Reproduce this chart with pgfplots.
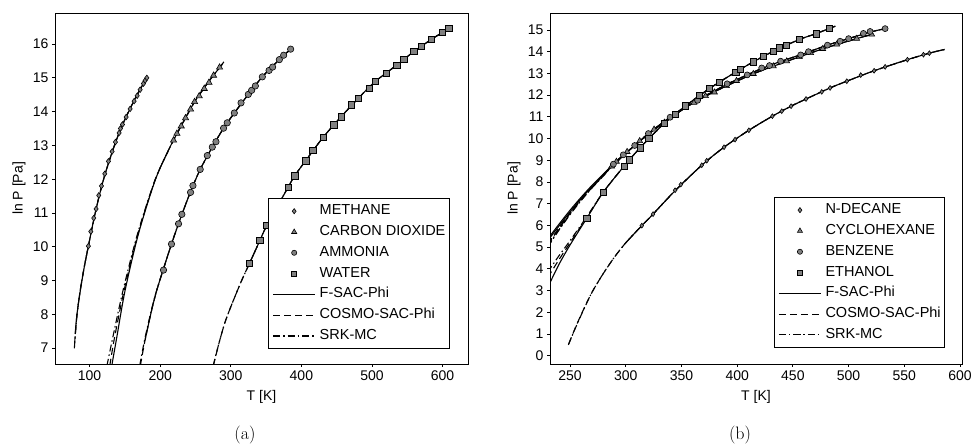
\documentclass[border=0pt]{standalone}
\usepackage{fontspec}
\usepackage{pgfplots}
\pgfplotsset{compat=1.18}
\newfontfamily\arialf{Liberation Sans}
\definecolor{mk}{RGB}{128,128,128}
\pgfplotsset{
 myax/.style={
  scale only axis, height=351pt,
  axis line style={line width=0.9pt},
  tick align=outside, tick pos=left, major tick length=3pt,
  tick style={black, line width=0.8pt},
  tick label style={font=\arialf\fontsize{14}{16}\selectfont},
  /pgf/number format/assume math mode=true,
  every axis x label/.style={at={(axis description cs:0.5,0)}, anchor=center, yshift=-33pt, font=\arialf\fontsize{14}{16}\selectfont},
  every axis y label/.style={at={(axis description cs:-0.0872,0.5)}, anchor=center, rotate=90, font=\arialf\fontsize{14}{16}\selectfont},
  legend style={font=\arialf\fontsize{14.5}{16}\selectfont, draw=black, line width=0.8pt,
    inner xsep=4pt, inner ysep=6pt, row sep=7.8pt, column sep=4pt,
    nodes={inner sep=0pt, text height=10pt, text depth=3pt}, anchor=south east, fill=white},
  legend cell align=left,
  legend image code/.code={\draw[mark repeat=2,mark phase=2,#1] plot coordinates {(0pt,0pt) (21pt,0pt) (42pt,0pt)};},
 },
 fsac/.style={black, line width=1.1pt, solid, smooth, no marks, forget plot},
 cosmo/.style={black, line width=1.1pt, dash pattern=on 7pt off 4pt, smooth, no marks, forget plot},
 srk/.style={black, line width=1.1pt, dash pattern=on 7pt off 3pt on 1.5pt off 3pt, smooth, no marks, forget plot},
 mks/.style={only marks, forget plot, mark options={fill=mk, draw=black, line width=0.6pt, solid}},
 lgm/.style={only marks, mark options={fill=mk, draw=black, line width=0.6pt, solid}},
 lgl/.style={black, line width=1.1pt},
}
\begin{document}
\begin{tikzpicture}[x=1pt,y=1pt]
\useasboundingbox (0,0) rectangle (975,444);
% ---------------- (a) ----------------
\begin{axis}[myax, at={(55pt,80pt)}, anchor=south west, width=413pt,
  xmin=51, xmax=636, ymin=6.53, ymax=16.92,
  xtick={100,200,300,400,500,600}, ytick={7,8,9,10,11,12,13,14,15,16},
  xlabel={T [K]}, ylabel={ln P [Pa]},
  legend style={at={(0.956,0.043)}}]
% legend
\addlegendimage{lgm, mark=diamond*, mark size=2.6pt}\addlegendentry{METHANE}
\addlegendimage{lgm, mark=triangle*, mark size=3pt}\addlegendentry{CARBON DIOXIDE}
\addlegendimage{lgm, mark=*, mark size=2.6pt}\addlegendentry{AMMONIA}
\addlegendimage{lgm, mark=square*, mark size=2.6pt}\addlegendentry{WATER}
\addlegendimage{lgl, solid}\addlegendentry{F-SAC-Phi}
\addlegendimage{lgl, dash pattern=on 7pt off 4pt}\addlegendentry{COSMO-SAC-Phi}
\addlegendimage{lgl, dash pattern=on 7pt off 3pt on 1.5pt off 3pt}\addlegendentry{SRK-MC}
% methane curves
\addplot[srk] coordinates {(78.4,6.99) (80,7.45) (82.2,8.0) (86.5,8.68) (92,9.35) (98.3,10.02) (105.9,10.8) (113,11.45) (121.5,12.12) (131.9,12.8) (141.8,13.37) (151.8,13.85) (163.1,14.33) (171.6,14.66) (181.5,15.02)};
\addplot[cosmo] coordinates {(78.8,7.15) (80.5,7.6) (82.5,8.05) (86.5,8.68) (92,9.35) (98.3,10.02) (105.9,10.8) (113,11.45) (121.5,12.12) (131.9,12.8) (141.8,13.37) (151.8,13.85) (163.1,14.33) (171.6,14.66) (181.5,15.02)};
\addplot[fsac] coordinates {(79.6,7.42) (82,7.98) (86.5,8.65) (92,9.35) (98.3,10.02) (105.9,10.8) (113,11.45) (121.5,12.12) (131.9,12.8) (141.8,13.37) (151.8,13.85) (163.1,14.33) (171.6,14.66) (181.5,15.02)};
% CO2 curves
\addplot[srk] coordinates {(124.6,6.48) (133,7.33) (147.5,8.72) (168,10.39) (192.5,11.97) (211.8,12.86) (221,13.24) (235.5,13.80) (248.7,14.29) (261.5,14.68) (275.6,15.08) (284.1,15.30) (290,15.47)};
\addplot[cosmo] coordinates {(128.6,6.48) (135.5,7.33) (149,8.72) (168.7,10.39) (192.7,11.97) (211.8,12.86) (221,13.24) (235.5,13.80) (248.7,14.29) (261.5,14.68) (275.6,15.08) (284.1,15.30) (290,15.47)};
\addplot[fsac] coordinates {(131.4,6.48) (138.6,7.33) (150.4,8.72) (169.3,10.39) (192.9,11.97) (211.8,12.86) (221,13.24) (235.5,13.80) (248.7,14.29) (261.5,14.68) (275.6,15.08) (284.1,15.30) (290,15.47)};
% ammonia curves
\addplot[srk] coordinates {(171,6.48) (178,7.25) (187.8,8.15) (195.1,8.72) (204.7,9.35) (216,10.08) (228,10.8) (243,11.63) (256.7,12.29) (273.8,12.95) (289.8,13.51) (305,13.96) (324.8,14.51) (344.7,15.03) (368.8,15.54) (384.8,15.85)};
\addplot[cosmo] coordinates {(171.9,6.48) (178.7,7.25) (188.2,8.15) (195.3,8.72) (204.7,9.35) (216,10.08) (228,10.8) (243,11.63) (256.7,12.29) (273.8,12.95) (289.8,13.51) (305,13.96) (324.8,14.51) (344.7,15.03) (368.8,15.54) (384.8,15.85)};
\addplot[fsac] coordinates {(178.7,7.25) (188.2,8.15) (195.3,8.72) (204.7,9.35) (216,10.08) (228,10.8) (243,11.63) (256.7,12.29) (273.8,12.95) (289.8,13.51) (305,13.96) (324.8,14.51) (344.7,15.03) (368.8,15.54) (384.8,15.85)};
% water curves
\addplot[srk] coordinates {(275,6.48) (285,7.28) (294.6,7.93) (313.5,8.91) (326.5,9.51) (340.9,10.17) (350.4,10.6) (381.1,11.76) (390.5,12.1) (406.1,12.55) (430.8,13.24) (456.3,13.85) (480.9,14.4) (504.5,14.89) (535.2,15.38) (559.3,15.78) (584.4,16.14) (609,16.47)};
\addplot[cosmo] coordinates {(275.3,6.48) (285,7.28) (294.6,7.93) (313.5,8.91) (326.5,9.51) (340.9,10.17) (350.4,10.6) (381.1,11.76) (390.5,12.1) (406.1,12.55) (430.8,13.24) (456.3,13.85) (480.9,14.4) (504.5,14.89) (535.2,15.38) (559.3,15.78) (584.4,16.14) (609,16.47)};
\addplot[fsac] coordinates {(326.5,9.51) (340.9,10.17) (350.4,10.6) (381.1,11.76) (390.5,12.1) (406.1,12.55) (430.8,13.24) (456.3,13.85) (480.9,14.4) (504.5,14.89) (535.2,15.38) (559.3,15.78) (584.4,16.14) (609,16.47)};
% markers
\addplot[mks, mark=diamond*, mark size=2.8pt] coordinates {(98.3,10.02) (101.7,10.45) (105.9,10.85) (109.2,11.12) (113.0,11.52) (116.8,11.80) (121.5,12.16) (126.7,12.53) (131.9,12.82) (136.6,13.10) (141.8,13.37) (143.7,13.50) (146.6,13.62) (151.8,13.84) (157.4,14.08) (163.1,14.31) (167.4,14.47) (171.6,14.65) (176.3,14.83) (178.7,14.92) (181.1,15.00)};
\addplot[mks, mark=triangle*, mark size=3.6pt] coordinates {(218.9,13.15) (223.7,13.35) (229.8,13.57) (235.9,13.81) (243,14.07) (248.7,14.29) (255.3,14.46) (262.4,14.68) (269.1,14.86) (275.6,15.07) (284.1,15.31)};
\addplot[mks, mark=*, mark size=3.2pt] coordinates {(204.7,9.31) (216.0,10.08) (226.0,10.68) (230.7,10.96) (243.0,11.61) (246.4,11.81) (256.7,12.29) (266.7,12.70) (273.8,12.95) (279.0,13.11) (289.8,13.51) (295.0,13.67) (305.0,13.96) (314.5,14.26) (324.8,14.51) (329.5,14.63) (334.8,14.76) (344.7,15.03) (354.2,15.22) (359.3,15.32) (368.8,15.54) (374.9,15.67) (384.8,15.85)};
\addplot[mks, mark=square*, mark size=3.2pt] coordinates {(326.5,9.51) (340.9,10.2) (350.4,10.63) (381.1,11.76) (390.5,12.1) (406.1,12.55) (416,12.85) (430.8,13.24) (445.8,13.61) (456.3,13.85) (470.5,14.2) (480.9,14.4) (496,14.69) (504.5,14.89) (520.6,15.14) (535.2,15.38) (545.1,15.55) (559.3,15.78) (569.8,15.93) (584.4,16.14) (599.6,16.34) (609,16.47)};
\end{axis}
% ---------------- (b) ----------------
\begin{axis}[myax, at={(550pt,80pt)}, anchor=south west, width=412pt,
  xmin=232, xmax=601.8, ymin=-0.38, ymax=15.78,
  xtick={250,300,350,400,450,500,550,600}, ytick={0,1,...,15},
  xlabel={T [K]}, ylabel={ln P [Pa]},
  legend style={at={(0.959,0.046)}}]
\addlegendimage{lgm, mark=diamond*, mark size=2.6pt}\addlegendentry{N-DECANE}
\addlegendimage{lgm, mark=triangle*, mark size=3pt}\addlegendentry{CYCLOHEXANE}
\addlegendimage{lgm, mark=*, mark size=2.6pt}\addlegendentry{BENZENE}
\addlegendimage{lgm, mark=square*, mark size=2.6pt}\addlegendentry{ETHANOL}
\addlegendimage{lgl, solid}\addlegendentry{F-SAC-Phi}
\addlegendimage{lgl, dash pattern=on 7pt off 4pt}\addlegendentry{COSMO-SAC-Phi}
\addlegendimage{lgl, dash pattern=on 7pt off 3pt on 1.5pt off 3pt}\addlegendentry{SRK-MC}
% decane
\addplot[srk] coordinates {(248.5,0.5) (255,1.3) (262,2.1) (270,2.95) (280,3.8) (290,4.55) (300,5.2) (314.4,5.99) (324.5,6.52) (344.3,7.6) (368.2,8.77) (388.2,9.6) (410.5,10.38) (431.6,11.03) (448.4,11.49) (461.8,11.82) (483.4,12.33) (498.4,12.64) (522.9,13.12) (552.8,13.63) (572.5,13.93) (586,14.1)};
\addplot[cosmo] coordinates {(248.8,0.55) (255,1.32) (262,2.12) (270,2.95) (280,3.8) (290,4.55) (300,5.2) (314.4,5.99) (324.5,6.52) (344.3,7.6) (368.2,8.77) (388.2,9.6) (410.5,10.38) (431.6,11.03) (448.4,11.49) (461.8,11.82) (483.4,12.33) (498.4,12.64) (522.9,13.12) (552.8,13.63) (572.5,13.93) (586,14.1)};
\addplot[fsac] coordinates {(300,5.2) (314.4,5.99) (324.5,6.52) (344.3,7.6) (368.2,8.77) (388.2,9.6) (410.5,10.38) (431.6,11.03) (448.4,11.49) (461.8,11.82) (483.4,12.33) (498.4,12.64) (522.9,13.12) (552.8,13.63) (572.5,13.93) (586,14.1)};
% ethanol
\addplot[srk] coordinates {(230,3.85) (240,4.6) (250,5.3) (265,6.4) (279.7,7.53) (298.5,8.73) (313,9.58) (334.5,10.70) (353.6,11.5) (375,12.3) (399,13.07) (414.5,13.53) (432.5,14.02) (455.8,14.56) (470.8,14.83) (488,15.17)};
\addplot[cosmo] coordinates {(230,3.6) (240,4.42) (250,5.2) (265,6.36) (279.7,7.52) (298.5,8.73) (313,9.58) (334.5,10.70) (353.6,11.5) (375,12.3) (399,13.07) (414.5,13.53) (432.5,14.02) (455.8,14.56) (470.8,14.83) (488,15.17)};
\addplot[fsac] coordinates {(230,3.15) (240,4.2) (250,5.1) (265,6.33) (279.7,7.52) (298.5,8.73) (313,9.58) (334.5,10.70) (353.6,11.5) (375,12.3) (399,13.07) (414.5,13.53) (432.5,14.02) (455.8,14.56) (470.8,14.83) (488,15.17)};
% benzene
\addplot[srk] coordinates {(230,5.05) (240,5.8) (250,6.52) (260,7.17) (270,7.77) (280,8.33) (289,8.84) (298,9.25) (308,9.68) (320.3,10.23) (339.8,10.98) (364.5,11.77) (391,12.5) (409,12.93) (422,13.22) (439,13.55) (457,13.86) (481,14.30) (500,14.60) (519.3,14.9) (533,15.06)};
\addplot[cosmo] coordinates {(230,5.15) (240,5.88) (250,6.58) (260,7.22) (270,7.8) (280,8.34) (289,8.84) (298,9.25) (308,9.68) (320.3,10.23) (339.8,10.98) (364.5,11.77) (391,12.5) (409,12.93) (422,13.22) (439,13.55) (457,13.86) (481,14.30) (500,14.60) (519.3,14.9) (533,15.06)};
\addplot[fsac] coordinates {(230,5.38) (240,6.05) (250,6.70) (260,7.30) (270,7.86) (280,8.37) (289,8.84) (298,9.25) (308,9.68) (320.3,10.23) (339.8,10.98) (364.5,11.77) (391,12.5) (409,12.93) (422,13.22) (439,13.55) (457,13.86) (481,14.30) (500,14.60) (519.3,14.9) (533,15.06)};
% cyclohexane
\addplot[srk] coordinates {(230,5.0) (240,5.78) (250,6.5) (260,7.15) (270,7.74) (280,8.28) (287.4,8.7) (301.2,9.37) (312.5,9.87) (325.4,10.4) (334.7,10.74) (353.5,11.42) (371.6,11.95) (390.4,12.42) (414.5,12.98) (432.5,13.33) (455.8,13.76) (476.8,14.13) (489.4,14.33) (507.3,14.6) (521,14.8)};
\addplot[cosmo] coordinates {(230,5.12) (240,5.85) (250,6.55) (260,7.18) (270,7.76) (280,8.3) (287.4,8.7) (301.2,9.37) (312.5,9.87) (325.4,10.4) (334.7,10.74) (353.5,11.42) (371.6,11.95) (390.4,12.42) (414.5,12.98) (432.5,13.33) (455.8,13.76) (476.8,14.13) (489.4,14.33) (507.3,14.6) (521,14.8)};
\addplot[fsac] coordinates {(230,5.3) (240,5.97) (250,6.62) (260,7.24) (270,7.8) (280,8.32) (287.4,8.7) (301.2,9.37) (312.5,9.87) (325.4,10.4) (334.7,10.74) (353.5,11.42) (371.6,11.95) (390.4,12.42) (414.5,12.98) (432.5,13.33) (455.8,13.76) (476.8,14.13) (489.4,14.33) (507.3,14.6) (521,14.8)};
% markers
\addplot[mks, mark=diamond*, mark size=2.4pt] coordinates {(314.4,5.99) (324.5,6.52) (344.3,7.62) (349.4,7.88) (368.2,8.77) (372.7,8.98) (388.2,9.60) (398.1,9.95) (410.5,10.38) (431.6,11.03) (440,11.26) (448.4,11.49) (461.8,11.82) (475.9,12.15) (483.4,12.33) (498.4,12.64) (510.9,12.92) (522.9,13.12) (532.8,13.30) (552.8,13.63) (567.2,13.86) (572.5,13.93)};
\addplot[mks, mark=triangle*, mark size=3.4pt] coordinates {(287.4,8.72) (291.6,8.94) (301.2,9.39) (312.5,9.89) (325.4,10.42) (334.7,10.74) (353.5,11.42) (361.2,11.65) (371.6,11.96) (379.6,12.13) (390.4,12.42) (399.4,12.66) (414.5,12.98) (432.5,13.33) (444.5,13.56) (455.8,13.76) (466,13.94) (476.8,14.13) (489.4,14.33) (507.3,14.60) (520.8,14.79)};
\addplot[mks, mark=*, mark size=3.0pt] coordinates {(288.9,8.82) (297.8,9.25) (308,9.68) (320.3,10.23) (339.8,10.98) (364.5,11.76) (391,12.52) (409,12.93) (422,13.25) (429,13.36) (439,13.56) (457,13.85) (464,14.0) (481,14.30) (492.4,14.48) (500,14.60) (513.3,14.84) (519.3,14.93) (532.8,15.06)};
\addplot[mks, mark=square*, mark size=3.2pt] coordinates {(265,6.33) (279.7,7.52) (298.5,8.73) (303,9.02) (312.8,9.58) (320.5,10.0) (334.5,10.70) (344.6,11.11) (353.6,11.5) (366,12.0) (374.9,12.30) (383.9,12.60) (398.7,13.06) (403,13.20) (414.5,13.53) (423.5,13.79) (432.5,14.02) (437.9,14.17) (443.9,14.30) (455.8,14.56) (470.8,14.83) (482.8,15.08)};
\end{axis}
\node[font=\fontsize{18}{20}\selectfont] at (245,9) {(a)};
\node[font=\fontsize{18}{20}\selectfont] at (740,9) {(b)};
\end{tikzpicture}
\end{document}
